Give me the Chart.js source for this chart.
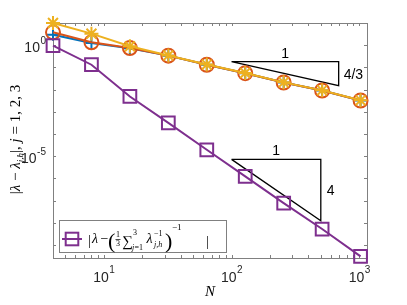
<!DOCTYPE html>
<html><head><meta charset="utf-8">
<script src="https://cdn.jsdelivr.net/npm/chart.js@4.4.1/dist/chart.umd.min.js"></script>
<style>html,body{margin:0;padding:0;background:#fff;} canvas{display:block;}</style>
</head><body>
<canvas id="c" width="407" height="305"></canvas>
<script>
// mesh sizes and eigenvalue errors
const N = [4, 8, 16, 32, 64, 128, 256, 512, 1024];
const errJ1 = [2.95, 1.26, 0.72, 0.339, 0.132, 0.055, 0.0209, 0.00912, 0.00324];
const errJ2 = [3.80, 1.35, 0.74, 0.339, 0.132, 0.055, 0.0209, 0.00912, 0.00324];
const errJ3 = [10.0, 3.31, 0.89, 0.345, 0.134, 0.056, 0.0212, 0.00925, 0.00330];
const errHarm = [0.955, 0.132, 0.0049, 3.16e-4, 1.95e-5, 1.23e-6, 7.76e-8, 5.25e-9, 3.09e-10];

// slope triangles (data coords)
const tri1X = [100, 690, 690, 100];
const tri1Y = [0.181, 0.181, 0.015, 0.181];
const tri2X = [100, 500, 500, 100];
const tri2Y = [7.2e-6, 7.2e-6, 1.24e-8, 7.2e-6];

const xTickExps = [1, 2, 3];
const yTickExps = [0, -5];

const C = {
  blue: '#0072BD', orange: '#D95319', yellow: '#EDB120', purple: '#7E2F8E',
  axis: '#808080',
  sans: "'Liberation Sans', Arial, sans-serif",
  serif: "'Liberation Serif', 'DejaVu Serif', serif",
};

const pts = (xs, ys) => xs.map((x, i) => ({ x, y: ys[i] }));

function series(data, color, style, radius, order) {
  return {
    data: pts(N, data), borderColor: color, backgroundColor: 'transparent',
    borderWidth: 2, pointStyle: style, pointRadius: radius, pointBorderWidth: 2,
    pointBorderColor: color, pointBackgroundColor: 'transparent',
    tension: 0, clip: false, order,
  };
}
function triangle(xs, ys) {
  return {
    data: pts(xs, ys), borderColor: '#000', borderWidth: 1.3, pointRadius: 0,
    tension: 0, fill: false, order: 5,
  };
}

function text(ctx, s, x, y, font, align) {
  ctx.font = font;
  ctx.textAlign = align || 'left';
  ctx.fillText(s, x, y);
  return ctx.measureText(s).width;
}

const frame = {
  id: 'frame',
  beforeDatasetsDraw(chart) {
    const { ctx, chartArea: a, scales: { x, y } } = chart;
    ctx.save();
    ctx.strokeStyle = C.axis;
    ctx.lineWidth = 1;
    ctx.beginPath();
    // x ticks, major and minor
    for (let k = 0; k <= 3; k++) {
      for (let m = 1; m <= 9; m++) {
        const v = m * Math.pow(10, k);
        if (v < x.min || v > x.max) continue;
        const px = Math.round(x.getPixelForValue(v)) + 0.5;
        ctx.moveTo(px, a.bottom); ctx.lineTo(px, a.bottom - 3);
        ctx.moveTo(px, a.top); ctx.lineTo(px, a.top + 3);
      }
    }
    for (let k = -9; k <= 1; k++) {
      const py = Math.round(y.getPixelForValue(Math.pow(10, k))) + 0.5;
      ctx.moveTo(a.left, py); ctx.lineTo(a.left + 3, py);
      ctx.moveTo(a.right, py); ctx.lineTo(a.right - 3, py);
    }
    ctx.stroke();
    ctx.strokeRect(Math.round(a.left) + 0.5, Math.round(a.top) + 0.5,
      Math.round(a.right - a.left), Math.round(a.bottom - a.top));
    ctx.restore();
  },
  afterDraw(chart) {
    const { ctx, chartArea: a, scales: { x, y } } = chart;
    ctx.save();
    ctx.fillStyle = '#262626';
    ctx.textBaseline = 'alphabetic';
    // x tick labels
    xTickExps.forEach(e => {
      const px = x.getPixelForValue(Math.pow(10, e));
      ctx.font = '14px ' + C.sans;
      const w1 = ctx.measureText('10').width;
      ctx.font = '10px ' + C.sans;
      const w2 = ctx.measureText(String(e)).width;
      const x0 = px - (w1 + w2) / 2;
      text(ctx, '10', x0, 281.5, '14px ' + C.sans);
      text(ctx, String(e), x0 + w1 + 0.5, 273, '10px ' + C.sans);
    });
    // y tick labels
    yTickExps.forEach(e => {
      const py = y.getPixelForValue(Math.pow(10, e));
      const sup = e < 0 ? '-' + Math.abs(e) : String(e);
      ctx.font = '10px ' + C.sans;
      const w2 = ctx.measureText(sup).width;
      const xr = a.left - 7;
      text(ctx, sup, xr, py - 1, '10px ' + C.sans, 'right');
      text(ctx, '10', xr - w2 - 0.5, py + 7, '14px ' + C.sans, 'right');
    });
    // axis labels
    ctx.fillStyle = '#000';
    text(ctx, 'N', (a.left + a.right) / 2, 296, 'italic 15px ' + C.serif, 'center');
    ctx.save();
    ctx.translate(20, (a.top + a.bottom) / 2 - 1);
    ctx.rotate(-Math.PI / 2);
    const parts = [
      ['|', '15px'], ['λ', 'italic 15px'], [' − ', '15px'], ['λ', 'italic 15px'],
      ['j,h', 'italic 9px', 3], ['|, ', '15px'], ['j', 'italic 15px'], [' = 1, 2, 3', '15px'],
    ];
    let tw = 0;
    parts.forEach(p => { ctx.font = p[1] + ' ' + C.serif; tw += ctx.measureText(p[0]).width; });
    let cx = -tw / 2;
    parts.forEach(p => { cx += text(ctx, p[0], cx, p[2] || 0, p[1] + ' ' + C.serif); });
    ctx.restore();

    // slope annotations
    const t1l = x.getPixelForValue(tri1X[0]), t1r = x.getPixelForValue(tri1X[1]);
    const t1t = y.getPixelForValue(tri1Y[0]), t1b = y.getPixelForValue(tri1Y[2]);
    text(ctx, '1', (t1l + t1r) / 2, t1t - 4, '14px ' + C.sans, 'center');
    text(ctx, '4/3', t1r + 5, (t1t + t1b) / 2 + 5, '14px ' + C.sans);
    const t2l = x.getPixelForValue(tri2X[0]), t2r = x.getPixelForValue(tri2X[1]);
    const t2t = y.getPixelForValue(tri2Y[0]), t2b = y.getPixelForValue(tri2Y[2]);
    text(ctx, '1', (t2l + t2r) / 2, t2t - 4, '14px ' + C.sans, 'center');
    text(ctx, '4', t2r + 6, (t2t + t2b) / 2 + 5, '14px ' + C.sans);

    // legend
    const lx = 59.5, ly = 220.5, lw = 167, lh = 32;
    ctx.fillStyle = '#fff';
    ctx.fillRect(lx, ly, lw, lh);
    ctx.strokeStyle = C.axis;
    ctx.lineWidth = 1;
    ctx.strokeRect(lx, ly, lw, lh);
    ctx.strokeStyle = C.purple;
    ctx.lineWidth = 2;
    ctx.beginPath(); ctx.moveTo(62, 239); ctx.lineTo(82, 239); ctx.stroke();
    ctx.strokeRect(72 - 6.3, 239 - 6.3, 12.6, 12.6);
    ctx.fillStyle = '#000';
    const S = C.serif;
    text(ctx, '|', 88, 245, '14px ' + S);
    text(ctx, 'λ', 92, 243, 'italic 14px ' + S);
    text(ctx, '−', 100.5, 243, '14px ' + S);
    text(ctx, '(', 108, 248, '22px ' + S);
    text(ctx, '1', 118, 237, '8px ' + S, 'center');
    ctx.fillRect(115.5, 239, 5, 0.7);
    text(ctx, '3', 118, 246, '8px ' + S, 'center');
    text(ctx, '∑', 122, 246, '15px ' + S);
    text(ctx, '3', 133, 235, '8px ' + S);
    text(ctx, 'j', 132, 250, 'italic 8px ' + S);
    text(ctx, '=1', 134.5, 250, '8px ' + S);
    text(ctx, 'λ', 146.5, 243, 'italic 14px ' + S);
    text(ctx, '−1', 154, 236, '8px ' + S);
    text(ctx, 'j,h', 154, 247, 'italic 8px ' + S);
    text(ctx, ')', 165, 248, '22px ' + S);
    text(ctx, '−1', 172, 230, '9px ' + S);
    text(ctx, '|', 206, 246, '14px ' + S);
    ctx.restore();
  },
};

new Chart(document.getElementById('c'), {
  type: 'line',
  data: {
    datasets: [
      series(errJ1, C.blue, 'cross', 6, 3),
      series(errJ2, C.orange, 'circle', 7, 2),
      series(errJ3, C.yellow, 'star', 7, 1),
      series(errHarm, C.purple, 'rect', 9, 0),
      triangle(tri1X, tri1Y),
      triangle(tri2X, tri2Y),
    ],
  },
  options: {
    responsive: false,
    animation: false,
    events: [],
    layout: { padding: { left: 53, right: 40, top: 23, bottom: 47 } },
    plugins: { legend: { display: false }, tooltip: { enabled: false } },
    scales: {
      x: { type: 'logarithmic', min: 4, max: 1150, display: false },
      y: { type: 'logarithmic', min: 2.6e-10, max: 10, display: false },
    },
  },
  plugins: [frame],
});
</script>
</body></html>
